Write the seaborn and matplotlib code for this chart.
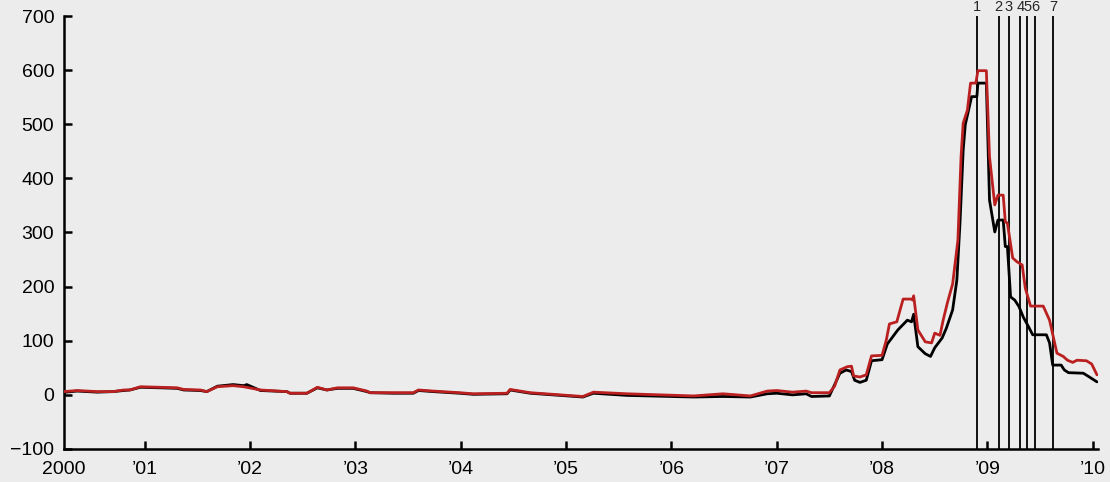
import numpy as np
import pandas as pd
import matplotlib
matplotlib.use("Agg")
import matplotlib.pyplot as plt
import seaborn as sns

# red series, decimal years
red_years = [2000.23, 2000.36, 2000.55, 2000.70, 2000.80, 2000.86, 2000.96, 2001.15, 2001.31, 2001.37,
             2001.53, 2001.59, 2001.69, 2001.84, 2001.94, 2002.10, 2002.35, 2002.38, 2002.54, 2002.64,
             2002.73, 2002.83, 2002.98, 2003.11, 2003.14, 2003.36, 2003.55, 2003.60, 2003.74, 2003.99,
             2004.12, 2004.44, 2004.47, 2004.66, 2005.16, 2005.26, 2005.58, 2006.21, 2006.49, 2006.75,
             2006.91, 2007.00, 2007.15, 2007.28, 2007.33, 2007.50, 2007.55, 2007.60, 2007.67, 2007.71,
             2007.73, 2007.79, 2007.85, 2007.90, 2008.00, 2008.04, 2008.07, 2008.14, 2008.20, 2008.28,
             2008.29, 2008.30, 2008.34, 2008.41, 2008.47, 2008.50, 2008.55, 2008.58, 2008.62, 2008.67,
             2008.72, 2008.75, 2008.77, 2008.81, 2008.84, 2008.89, 2008.91, 2008.99, 2009.02, 2009.07,
             2009.10, 2009.15, 2009.17, 2009.19, 2009.24, 2009.28, 2009.33, 2009.36, 2009.41, 2009.53,
             2009.56, 2009.59, 2009.66, 2009.72, 2009.76, 2009.81, 2009.85, 2009.94, 2009.99, 2010.04]
red_vals = [6, 8, 6, 6, 9, 9, 15, 14, 13, 10,
            9, 6, 15, 17, 15, 9, 6, 3, 3, 14,
            9, 13, 13, 7, 4, 4, 4, 9, 7, 4,
            2, 3, 10, 4, -3, 5, 2, -2, 2, -2,
            7, 8, 5, 7, 4, 4, 16, 46, 52, 53,
            35, 33, 37, 72, 73, 101, 131, 135, 177, 177,
            175, 183, 120, 98, 96, 114, 110, 138, 170, 205,
            286, 440, 502, 526, 576, 576, 599, 599, 440, 351,
            369, 369, 320, 317, 253, 246, 240, 197, 164, 164,
            151, 138, 77, 71, 64, 60, 64, 63, 57, 37]

# black series
black_years = [2000.23, 2000.25, 2000.36, 2000.55, 2000.70, 2000.80, 2000.86, 2000.96, 2001.15, 2001.31,
               2001.37, 2001.53, 2001.59, 2001.69, 2001.84, 2001.94, 2001.97, 2002.10, 2002.35, 2002.38,
               2002.54, 2002.64, 2002.73, 2002.83, 2002.98, 2003.11, 2003.14, 2003.36, 2003.55, 2003.60,
               2003.74, 2003.99, 2004.12, 2004.44, 2004.47, 2004.66, 2005.16, 2005.26, 2005.58, 2006.21,
               2006.49, 2006.75, 2006.91, 2007.00, 2007.15, 2007.28, 2007.33, 2007.50, 2007.60, 2007.66,
               2007.71, 2007.74, 2007.79, 2007.85, 2007.90, 2008.00, 2008.05, 2008.10, 2008.15, 2008.24,
               2008.28, 2008.30, 2008.34, 2008.41, 2008.46, 2008.50, 2008.57, 2008.61, 2008.67, 2008.71,
               2008.74, 2008.77, 2008.79, 2008.85, 2008.90, 2008.91, 2008.99, 2009.02, 2009.07, 2009.10,
               2009.15, 2009.17, 2009.19, 2009.22, 2009.26, 2009.30, 2009.34, 2009.39, 2009.43, 2009.56,
               2009.59, 2009.62, 2009.70, 2009.73, 2009.77, 2009.91, 2009.96, 2010.04]
black_vals = [2, 5, 7, 5, 6, 8, 9, 14, 13, 12,
              9, 8, 6, 16, 19, 17, 19, 8, 6, 3,
              3, 13, 9, 12, 12, 6, 4, 3, 3, 8,
              6, 3, 1, 2, 9, 3, -4, 3, -1, -4,
              -3, -4, 2, 3, 0, 2, -3, -2, 40, 46,
              43, 27, 23, 27, 63, 65, 94, 107, 120, 138,
              135, 149, 89, 76, 71, 87, 105, 123, 157, 212,
              318, 452, 499, 551, 551, 576, 576, 360, 301, 323,
              323, 274, 274, 181, 175, 163, 144, 126, 111, 111,
              96, 55, 55, 46, 41, 40, 34, 24]

event_years = [2008.897, 2009.108, 2009.203, 2009.314, 2009.377, 2009.453, 2009.623]
event_labels = ["1", "2", "3", "4", "5", "6", "7"]

year_ticks = list(range(2001, 2011))
year_labels = ["\u2019%02d" % (y % 100) for y in year_ticks]

red_df = pd.DataFrame({"year": red_years, "value": red_vals})
black_df = pd.DataFrame({"year": black_years, "value": black_vals})

bg = "#ececec"
sns.set_style("ticks")
plt.rcParams["font.family"] = ["Liberation Sans", "DejaVu Sans"]

fig = plt.figure(figsize=(11.1, 4.82), dpi=100, facecolor=bg)
ax = fig.add_axes([0.0577, 0.0685, 0.9315, 0.8983], facecolor=bg)

xmin, xmax = 2000.235, 2010.05

for yr in event_years:
    ax.axvline(yr, color="black", lw=1.3, zorder=1)

sns.lineplot(data=black_df, x="year", y="value", color="black", lw=2.0, ax=ax, zorder=3)
sns.lineplot(data=red_df, x="year", y="value", color="#bb2020", lw=2.0, ax=ax, zorder=4)

for yr, lab in zip(event_years, event_labels):
    ax.text(yr, 704, lab, ha="center", va="bottom", fontsize=10.5, clip_on=False)

ax.set_xlim(xmin, xmax)
ax.set_ylim(-100, 700)
ax.set_yticks(range(-100, 701, 100))
ax.set_xticks([xmin] + year_ticks)
ax.set_xticklabels(["2000"] + year_labels)
ax.xaxis.get_major_ticks()[0].tick1line.set_visible(False)
ax.set_xlabel("")
ax.set_ylabel("")

sns.despine(ax=ax)
for s in ["left", "bottom"]:
    ax.spines[s].set_linewidth(1.8)
    ax.spines[s].set_color("black")
ax.tick_params(axis="both", direction="in", length=6, width=1.8, labelsize=14, colors="black")
ax.tick_params(axis="y", pad=7)
ax.tick_params(axis="x", pad=9)

fig.savefig("out.png", dpi=100, facecolor=bg)
